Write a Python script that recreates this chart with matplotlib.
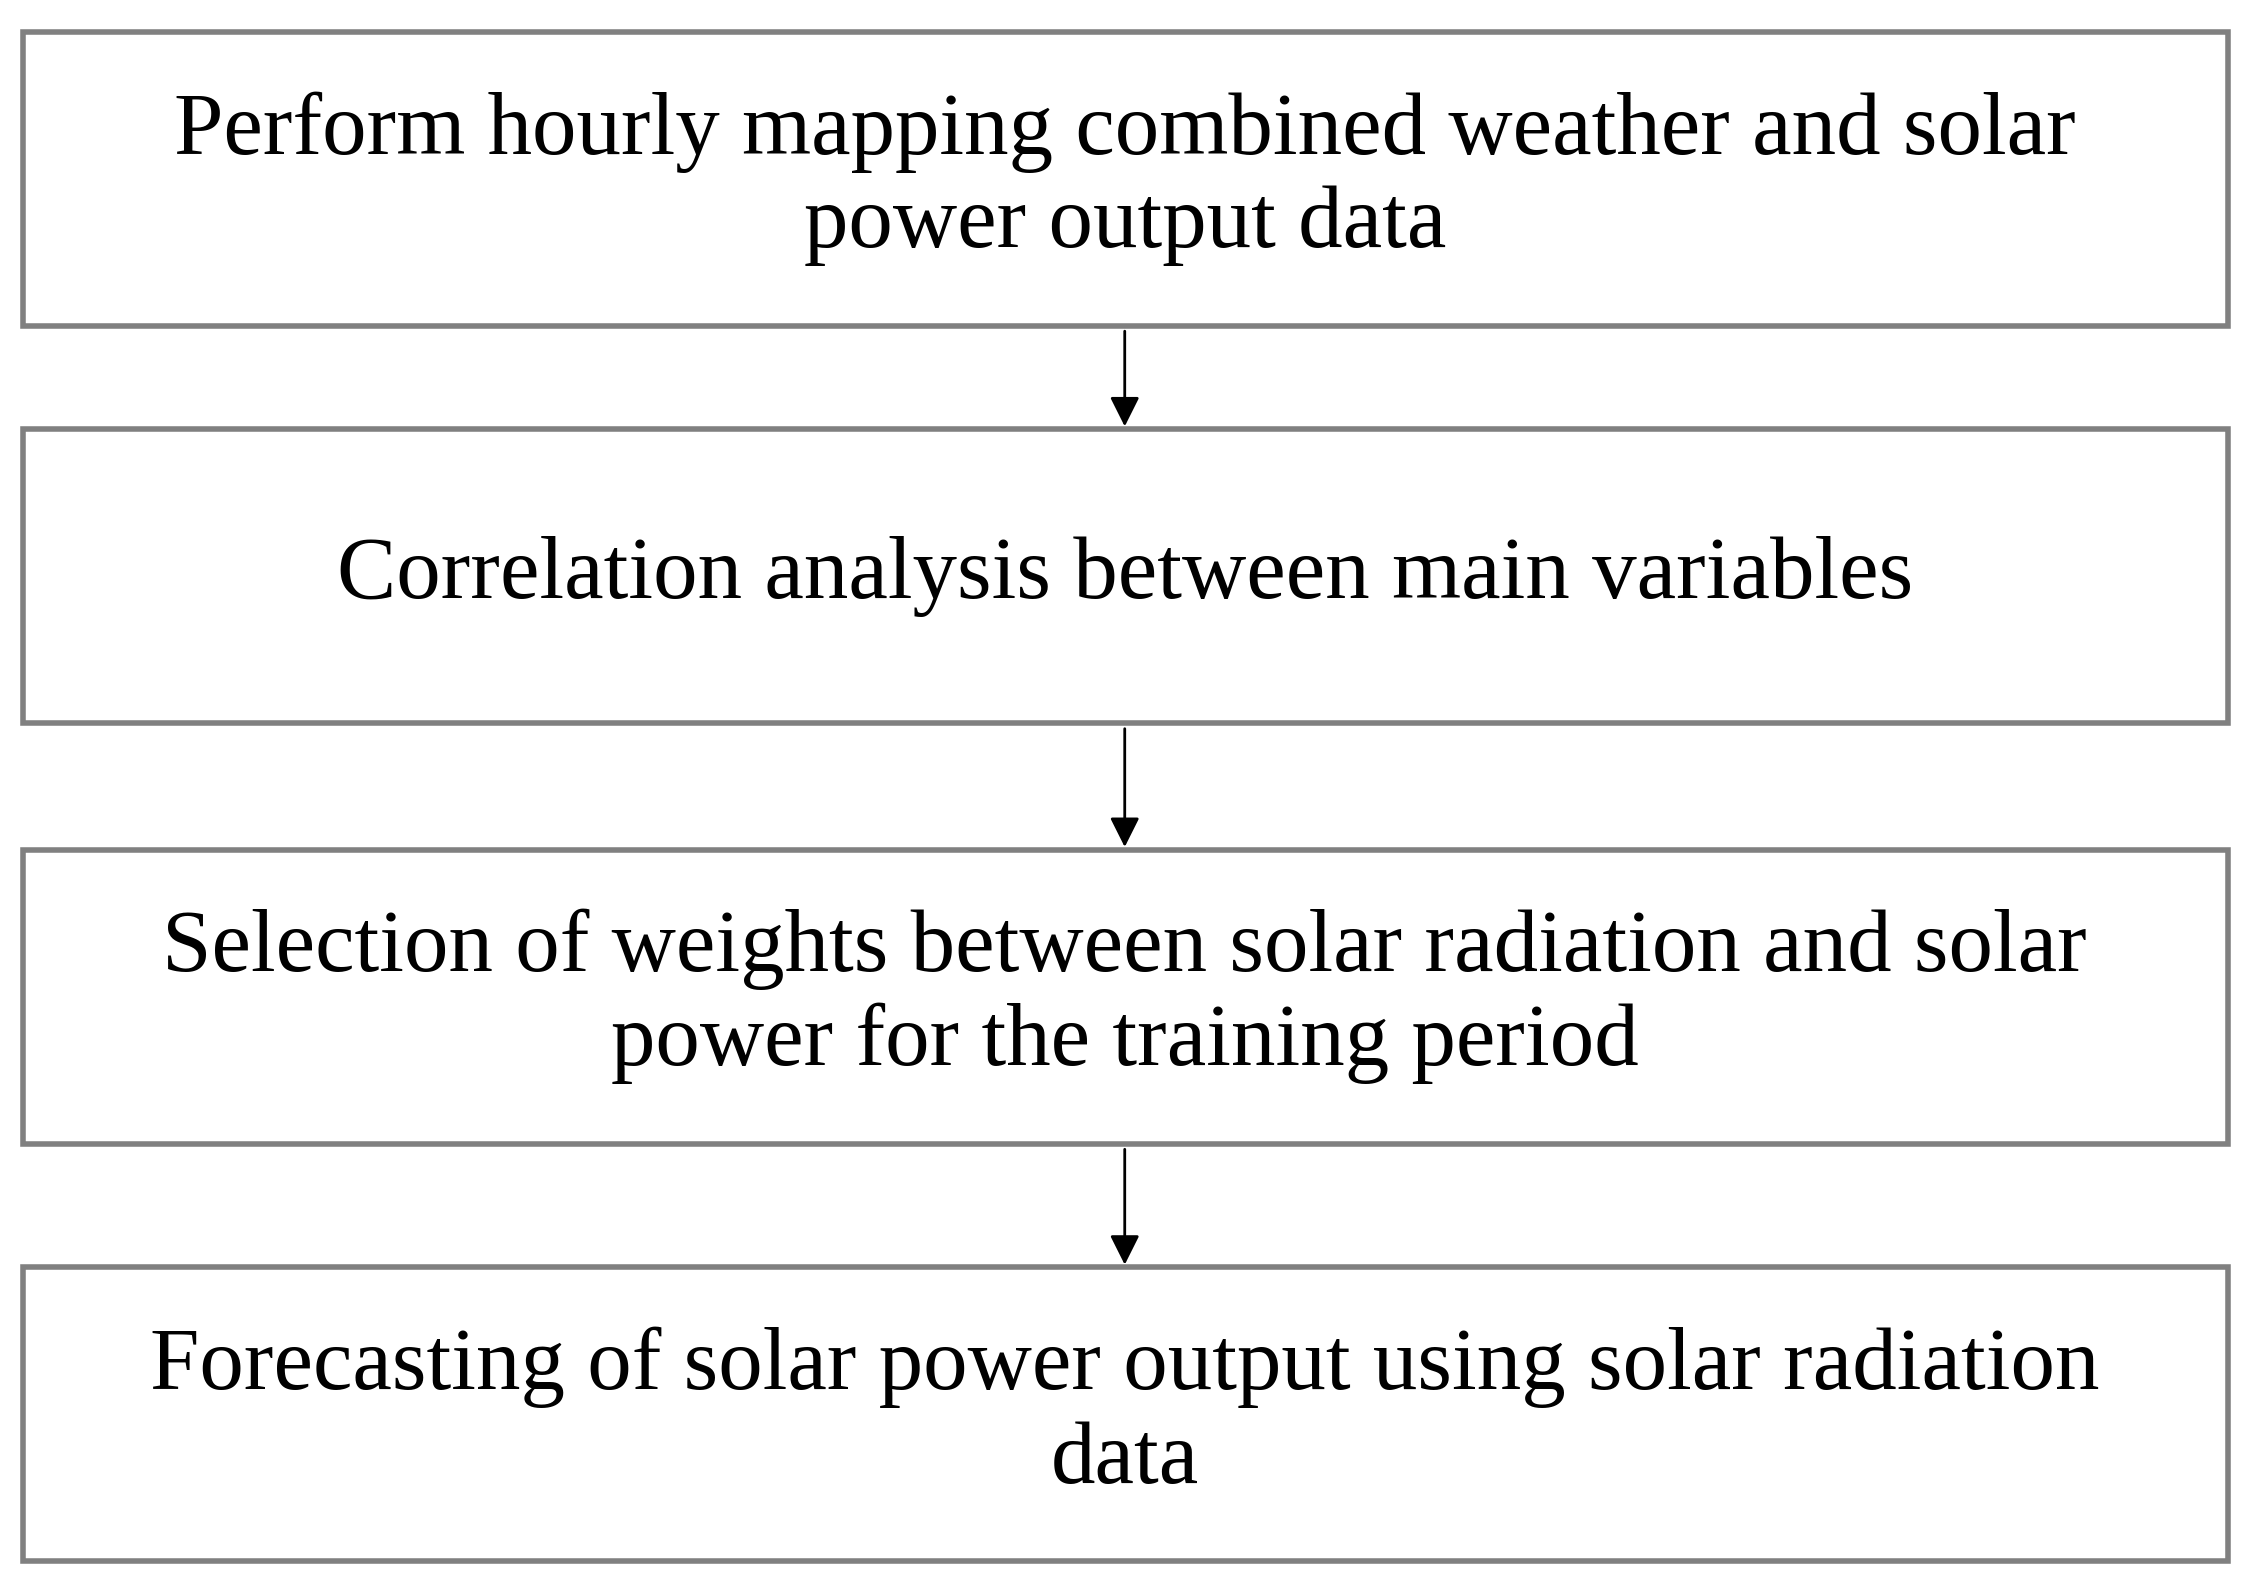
import matplotlib
matplotlib.use("Agg")
import matplotlib.pyplot as plt
from matplotlib.patches import Rectangle

steps = [
    "Perform hourly mapping combined weather and solar\npower output data",
    "Correlation analysis between main variables",
    "Selection of weights between solar radiation and solar\npower for the training period",
    "Forecasting of solar power output using solar radiation\ndata",
]
box_tops = [22, 298, 590, 880]
box_h = 204

fig = plt.figure(figsize=(22.61, 15.93), dpi=100)
ax = fig.add_axes([0, 0, 1, 1])
ax.set_xlim(0, 1568)
ax.set_ylim(1106, 0)
ax.axis("off")

for i, (t, top) in enumerate(zip(steps, box_tops)):
    ax.add_patch(Rectangle((16, top), 1529, box_h, fill=False, edgecolor="#808080", lw=4))
    ax.text(780, top + box_h / 2, t, ha="center", va="center", fontsize=64,
            family="Liberation Serif", linespacing=1.2, color="black")
    if i < len(steps) - 1:
        ax.annotate("", xy=(780, box_tops[i + 1]), xytext=(780, top + box_h + 2),
                    arrowprops=dict(arrowstyle="-|>", color="black", lw=2, mutation_scale=45))

fig.savefig("out.png", dpi=100)
